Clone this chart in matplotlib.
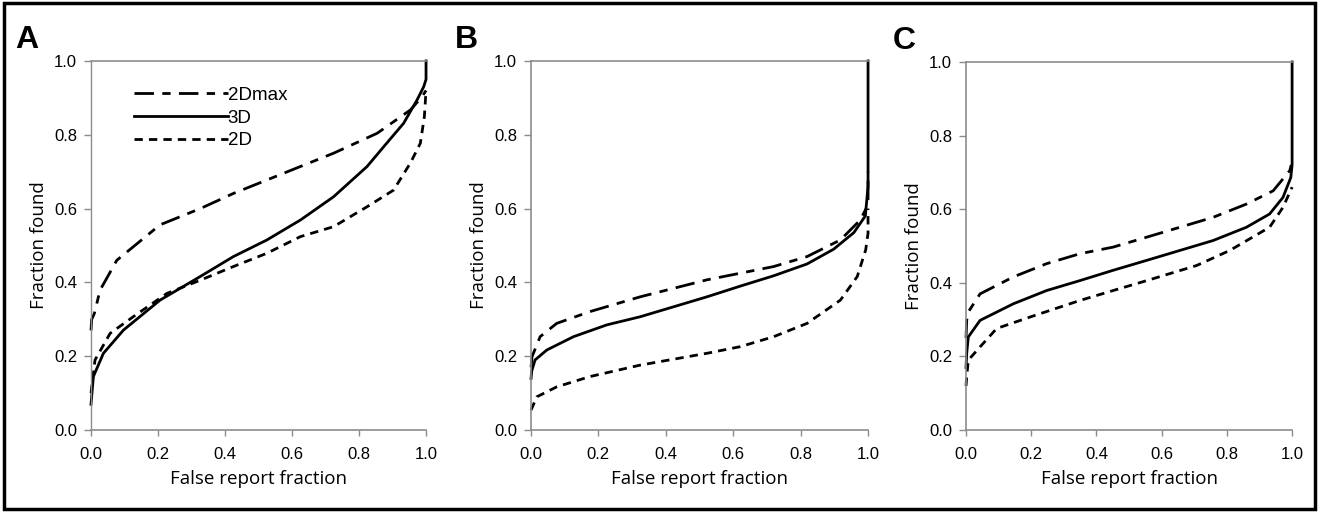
import matplotlib.pyplot as plt
from matplotlib.patches import Rectangle

# --- data (x = false report fraction, y = fraction found)
a_2dmax_x = [0.0, 0.002, 0.01, 0.027, 0.077, 0.206, 0.326, 0.425, 0.625, 0.724, 0.854, 0.953, 0.988, 1.0]
a_2dmax_y = [0.27, 0.30, 0.316, 0.379, 0.46, 0.556, 0.60, 0.641, 0.714, 0.75, 0.804, 0.867, 0.903, 0.92]
a_3d_x = [0.0, 0.007, 0.037, 0.097, 0.206, 0.326, 0.425, 0.525, 0.625, 0.724, 0.824, 0.874, 0.933, 0.973, 0.993, 1.0, 1.0]
a_3d_y = [0.07, 0.145, 0.208, 0.271, 0.352, 0.416, 0.47, 0.515, 0.569, 0.632, 0.714, 0.768, 0.831, 0.894, 0.93, 0.95, 1.0]
a_2d_x = [0.0, 0.002, 0.012, 0.057, 0.126, 0.226, 0.326, 0.425, 0.525, 0.625, 0.724, 0.824, 0.903, 0.953, 0.983, 0.995, 1.0]
a_2d_y = [0.10, 0.117, 0.19, 0.262, 0.307, 0.37, 0.406, 0.443, 0.479, 0.524, 0.551, 0.605, 0.65, 0.723, 0.777, 0.849, 0.92]

b_2dmax_x = [0.0, 0.003, 0.027, 0.076, 0.175, 0.324, 0.522, 0.72, 0.819, 0.918, 0.977, 0.997, 1.0, 1.0]
b_2dmax_y = [0.17, 0.199, 0.253, 0.289, 0.321, 0.361, 0.407, 0.443, 0.47, 0.515, 0.569, 0.605, 0.62, 0.70]
b_3d_x = [0.0, 0.002, 0.012, 0.047, 0.126, 0.225, 0.324, 0.423, 0.522, 0.621, 0.72, 0.819, 0.898, 0.958, 0.992, 1.0, 1.0]
b_3d_y = [0.14, 0.16, 0.19, 0.217, 0.253, 0.285, 0.307, 0.334, 0.361, 0.39, 0.418, 0.45, 0.49, 0.535, 0.58, 0.66, 1.0]
b_2d_x = [0.0, 0.017, 0.076, 0.175, 0.324, 0.522, 0.621, 0.72, 0.819, 0.918, 0.968, 0.993, 1.0, 1.0]
b_2d_y = [0.054, 0.09, 0.117, 0.145, 0.176, 0.208, 0.226, 0.253, 0.289, 0.352, 0.416, 0.488, 0.533, 0.60]

c_2dmax_x = [0.0, 0.002, 0.007, 0.043, 0.145, 0.247, 0.349, 0.451, 0.554, 0.656, 0.758, 0.86, 0.942, 0.993, 1.0]
c_2dmax_y = [0.25, 0.298, 0.321, 0.37, 0.416, 0.452, 0.479, 0.497, 0.524, 0.551, 0.578, 0.614, 0.65, 0.705, 0.73]
c_3d_x = [0.0, 0.002, 0.007, 0.043, 0.145, 0.247, 0.349, 0.451, 0.554, 0.656, 0.758, 0.86, 0.931, 0.972, 0.996, 1.0, 1.0]
c_3d_y = [0.17, 0.208, 0.253, 0.298, 0.343, 0.379, 0.406, 0.434, 0.461, 0.488, 0.515, 0.551, 0.587, 0.632, 0.686, 0.72, 1.0]
c_2d_x = [0.0, 0.002, 0.007, 0.043, 0.094, 0.196, 0.349, 0.451, 0.554, 0.707, 0.809, 0.931, 0.972, 1.0]
c_2d_y = [0.12, 0.145, 0.19, 0.226, 0.276, 0.307, 0.352, 0.379, 0.406, 0.447, 0.488, 0.551, 0.605, 0.66]

panels = ["A", "B", "C"]
series_names = ["2Dmax", "3D", "2D"]
ticks = [0.0, 0.2, 0.4, 0.6, 0.8, 1.0]
tick_labels = ["0.0", "0.2", "0.4", "0.6", "0.8", "1.0"]

data = {
    "A": [(a_2dmax_x, a_2dmax_y), (a_3d_x, a_3d_y), (a_2d_x, a_2d_y)],
    "B": [(b_2dmax_x, b_2dmax_y), (b_3d_x, b_3d_y), (b_2d_x, b_2d_y)],
    "C": [(c_2dmax_x, c_2dmax_y), (c_3d_x, c_3d_y), (c_2d_x, c_2d_y)],
}

styles = [
    dict(linestyle=(0, (7, 3, 3, 3)), color="black", lw=2.0),
    dict(linestyle="-", color="black", lw=2.0),
    dict(linestyle=(0, (3, 2.2)), color="black", lw=2.0),
]

# axes boxes in figure fractions
boxes = {
    "A": [0.069, 0.160, 0.254, 0.721],
    "B": [0.4026, 0.160, 0.2555, 0.721],
    "C": [0.7324, 0.160, 0.2472, 0.719],
}

fig = plt.figure(figsize=(13.19, 5.12), dpi=100)
spine_gray = "#8c8c8c"

for p in panels:
    ax = fig.add_axes(boxes[p])
    for (x, y), st in zip(data[p], styles):
        ax.plot(x, y, solid_joinstyle="round", dash_capstyle="butt", clip_on=False, **st)
    ax.set_xlim(0, 1)
    ax.set_ylim(0, 1)
    ax.set_xticks(ticks)
    ax.set_xticklabels(tick_labels)
    ax.set_yticks(ticks)
    ax.set_yticklabels(tick_labels)
    ax.tick_params(direction="out", length=5, width=1, color=spine_gray,
                   labelsize=12, labelcolor="black", pad=5)
    ax.tick_params(axis="x", length=4, pad=8)
    for lab in ax.get_xticklabels() + ax.get_yticklabels():
        lab.set_fontfamily("Liberation Sans")
    ax.spines["right"].set_visible(False)
    for s in ["top", "bottom", "left"]:
        ax.spines[s].set_color(spine_gray)
        ax.spines[s].set_linewidth(1.2)
    if p == "A":
        ax.spines["left"].set_linestyle((0, (1, 1)))
        ax.spines["left"].set_linewidth(1.0)
    ax.set_xlabel("False report fraction", fontsize=13.5, family="Open Sans", labelpad=6)
    ax.set_ylabel("Fraction found", fontsize=13.5, family="Open Sans", labelpad=4)
    ax.text(-0.225, 1.057, p, transform=ax.transAxes, fontsize=23, fontweight="bold",
            family="Liberation Sans", ha="left", va="center")
    if p == "A":
        leg = ax.legend(ax.get_lines(), series_names, loc="upper left",
                        bbox_to_anchor=(0.128, 0.93), frameon=False, fontsize=13.5,
                        handlelength=5.0, handletextpad=0.0, labelspacing=0.3,
                        borderaxespad=0.0, borderpad=0.0)
        for t in leg.get_texts():
            t.set_fontfamily("Liberation Sans")

# outer frame
fig.patches.append(Rectangle((0.003, 0.005), 0.994, 0.99, transform=fig.transFigure,
                             fill=False, edgecolor="black", lw=2.5))

fig.savefig("out.png", dpi=100)
